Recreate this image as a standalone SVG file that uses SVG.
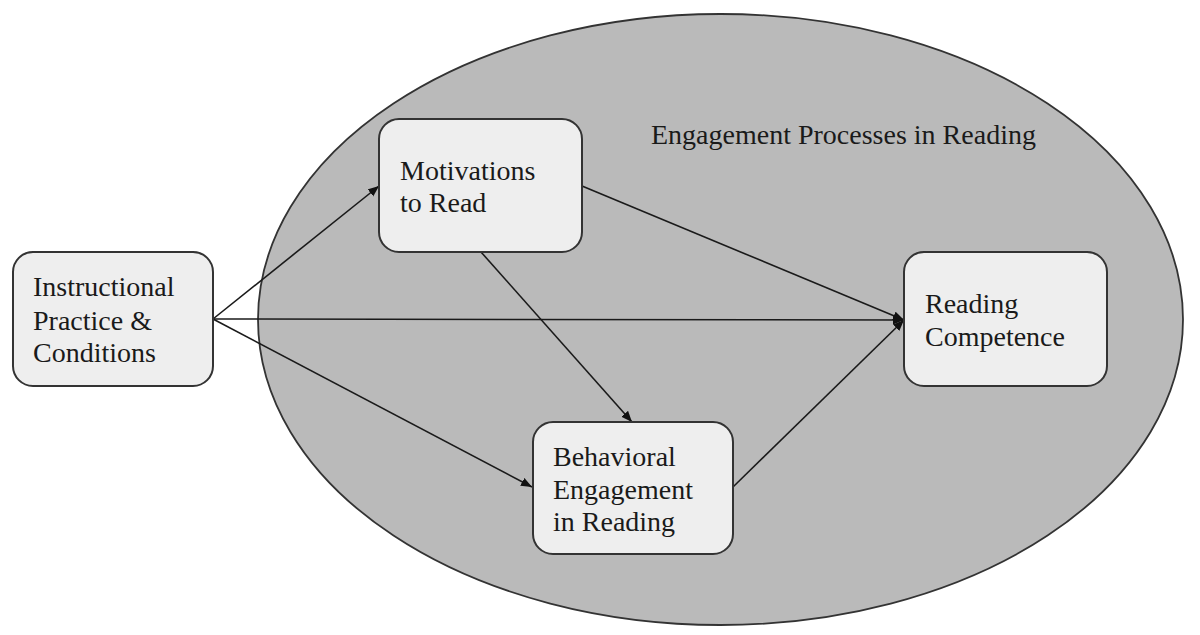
<svg xmlns="http://www.w3.org/2000/svg" width="1200" height="635" viewBox="0 0 1200 635">
<style>
.box{fill:#eeeeee;stroke:#333333;stroke-width:2}
.lbl{font-family:"Liberation Serif","Times New Roman",serif;font-size:28px;fill:#1a1a1a}
.conn{stroke:#1a1a1a;stroke-width:1.6;fill:none;marker-end:url(#ah)}
</style>
<defs>
<marker id="ah" markerUnits="userSpaceOnUse" markerWidth="12" markerHeight="10" refX="11" refY="4.5" orient="auto">
<path d="M0,0 L11,4.5 L0,9 Z" fill="#111111"/>
</marker>
</defs>
<rect width="1200" height="635" fill="#ffffff"/>
<g id="engagement-processes">
<ellipse cx="720.5" cy="319.5" rx="462.5" ry="305.5" fill="#bababa" stroke="#333333" stroke-width="1.8"/>
<text class="lbl" x="651" y="144">Engagement Processes in Reading</text>
</g>
<g id="connectors">
<line class="conn" x1="213" y1="319" x2="379" y2="186"/>
<line class="conn" x1="213" y1="319" x2="904" y2="320"/>
<line class="conn" x1="213" y1="319" x2="532" y2="487"/>
<line class="conn" x1="582" y1="186" x2="904" y2="320"/>
<line class="conn" x1="481" y1="252" x2="632" y2="422"/>
<line class="conn" x1="733" y1="487" x2="904" y2="320"/>
</g>
<g id="instructional">
<rect class="box" x="13" y="252" width="200" height="134" rx="20"/>
<text class="lbl" x="33" y="296">Instructional</text>
<text class="lbl" x="33" y="330">Practice &amp;</text>
<text class="lbl" x="33" y="362">Conditions</text>
</g>
<g id="motivations">
<rect class="box" x="379" y="119" width="203" height="133" rx="20"/>
<text class="lbl" x="400" y="180">Motivations</text>
<text class="lbl" x="400" y="212">to Read</text>
</g>
<g id="behavioral">
<rect class="box" x="533" y="422" width="200" height="132" rx="20"/>
<text class="lbl" x="553" y="466">Behavioral</text>
<text class="lbl" x="553" y="499">Engagement</text>
<text class="lbl" x="553" y="531">in Reading</text>
</g>
<g id="reading-competence">
<rect class="box" x="904" y="252" width="203" height="134" rx="20"/>
<text class="lbl" x="925" y="313">Reading</text>
<text class="lbl" x="925" y="346">Competence</text>
</g>
</svg>
